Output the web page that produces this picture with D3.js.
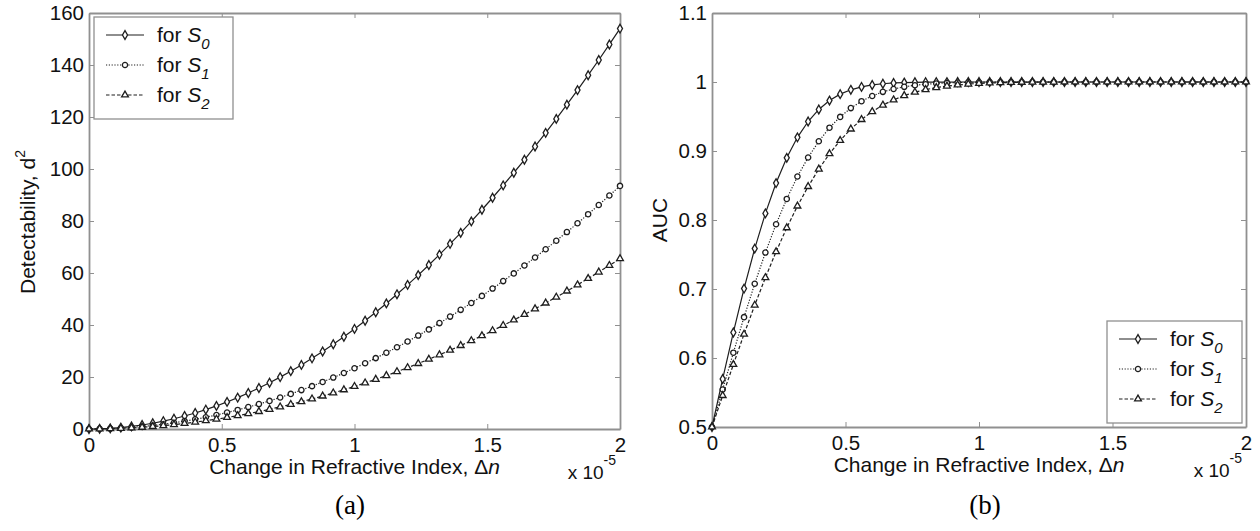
<!DOCTYPE html>
<html><head><meta charset="utf-8">
<script src="https://cdn.jsdelivr.net/npm/d3@7"></script>
<style>
body{margin:0;background:#fff;}
svg{display:block;font-family:"Liberation Sans",Arial,sans-serif;}
</style></head>
<body>
<svg id="c" width="1260" height="531"></svg>
<script>
// ---- data ----
const dn = [0,0.04,0.08,0.12,0.16,0.2,0.24,0.28,0.32,0.36,0.4,0.44,0.48,0.52,0.56,0.6,0.64,0.68,0.72,0.76,0.8,0.84,0.88,0.92,0.96,1,1.04,1.08,1.12,1.16,1.2,1.24,1.28,1.32,1.36,1.4,1.44,1.48,1.52,1.56,1.6,1.64,1.68,1.72,1.76,1.8,1.84,1.88,1.92,1.96,2];
const d2S0 = [0,0.06,0.25,0.55,0.99,1.54,2.22,3.02,3.94,4.99,6.16,7.45,8.87,10.41,12.07,13.86,15.77,17.80,19.96,22.24,24.64,27.17,29.81,32.59,35.48,38.5,41.64,44.91,48.29,51.81,55.44,59.20,63.08,67.08,71.21,75.46,79.83,84.33,88.95,93.69,98.56,103.55,108.66,113.90,119.26,124.74,130.35,136.07,141.93,147.90,154.0];
const d2S1 = [0,0.04,0.15,0.34,0.60,0.94,1.35,1.83,2.39,3.03,3.74,4.53,5.39,6.32,7.33,8.42,9.57,10.81,12.12,13.50,14.96,16.49,18.10,19.78,21.54,23.38,25.28,27.26,29.32,31.45,33.66,35.94,38.30,40.73,43.23,45.82,48.47,51.20,54.01,56.89,59.84,62.87,65.97,69.15,72.41,75.74,79.14,82.62,86.17,89.80,93.50];
const d2S2 = [0,0.03,0.10,0.24,0.42,0.66,0.94,1.28,1.68,2.12,2.62,3.17,3.77,4.43,5.14,5.90,6.71,7.57,8.49,9.46,10.48,11.55,12.68,13.86,15.09,16.38,17.71,19.10,20.54,22.03,23.58,25.18,26.83,28.53,30.29,32.10,33.96,35.87,37.83,39.85,41.92,44.04,46.22,48.44,50.72,53.06,55.44,57.88,60.36,62.91,65.50];
const aucS0 = [0.5,0.5696,0.6370,0.7006,0.7586,0.8096,0.8535,0.8901,0.9198,0.9427,0.9602,0.9731,0.9824,0.9887,0.9929,0.9957,0.9975,0.9986,0.9992,0.9996,0.9998,0.9999,0.9999,1,1,1,1,1,1,1,1,1,1,1,1,1,1,1,1,1,1,1,1,1,1,1,1,1,1,1,1];
const aucS1 = [0.5,0.5543,0.6077,0.6592,0.7076,0.7528,0.7939,0.8305,0.8630,0.8906,0.9141,0.9338,0.9494,0.9622,0.9722,0.9797,0.9857,0.9899,0.9930,0.9953,0.9968,0.9979,0.9987,0.9992,0.9995,0.9997,0.9998,0.9999,0.9999,1,1,1,1,1,1,1,1,1,1,1,1,1,1,1,1,1,1,1,1,1,1];
const aucS2 = [0.5,0.5456,0.5906,0.6345,0.6765,0.7165,0.7540,0.7887,0.8202,0.8485,0.8738,0.8960,0.9152,0.9318,0.9456,0.9571,0.9665,0.9741,0.9803,0.9852,0.9890,0.9919,0.9941,0.9957,0.9970,0.9979,0.9986,0.9990,0.9993,0.9996,0.9997,0.9998,0.9999,1,1,1,1,1,1,1,1,1,1,1,1,1,1,1,1,1,1];
const seriesNames = ["0","1","2"];
const xTicks = [0,0.5,1,1.5,2];
const yTicksA = [0,20,40,60,80,100,120,140,160];
const yTicksB = [0.5,0.6,0.7,0.8,0.9,1,1.1];

// ---- drawing ----
const svg = d3.select("#c");
const AX = "#909090", INK = "#1e1e1e";
const styles = [
  {dash:null, sym:d3.symbolDiamond, size:22},
  {dash:"1.2,1.6", sym:d3.symbolCircle, size:22},
  {dash:"3.5,2", sym:d3.symbolTriangle, size:20}
];

function panel(opt){
  const x = d3.scaleLinear().domain([0,2]).range([opt.x0,opt.x1]);
  const y = d3.scaleLinear().domain(opt.yDom).range([opt.y1,opt.y0]);
  const g = svg.append("g");
  const fmt = d=>String(d);
  const ax = (a)=>a.tickSizeOuter(0);
  const gb = g.append("g").attr("transform",`translate(0,${opt.y1})`)
    .call(ax(d3.axisBottom(x).tickValues(xTicks).tickFormat(fmt).tickSize(-5).tickPadding(8)));
  const gt = g.append("g").attr("transform",`translate(0,${opt.y0})`)
    .call(ax(d3.axisTop(x).tickValues(xTicks).tickFormat("").tickSize(-5)));
  const gl = g.append("g").attr("transform",`translate(${opt.x0},0)`)
    .call(ax(d3.axisLeft(y).tickValues(opt.yTicks).tickFormat(fmt).tickSize(-5).tickPadding(5)));
  const gr = g.append("g").attr("transform",`translate(${opt.x1},0)`)
    .call(ax(d3.axisRight(y).tickValues(opt.yTicks).tickFormat("").tickSize(-5)));
  [gb,gt,gl,gr].forEach(a=>{
    a.select(".domain").attr("stroke",AX).attr("stroke-width",1.8);
    a.selectAll(".tick line").attr("stroke",AX).attr("stroke-width",1);
    a.selectAll("text").attr("font-size",20.5).attr("fill","#111").attr("font-family","Liberation Sans, Arial, sans-serif");
  });

  // series
  opt.series.forEach((vals,i)=>{
    const st = styles[i];
    const pts = dn.map((d,j)=>[d,vals[j]]);
    const line = d3.line().x(p=>x(p[0])).y(p=>y(p[1]));
    g.append("path").attr("d",line(pts)).attr("fill","none").attr("stroke",INK)
      .attr("stroke-width",1.2).attr("stroke-dasharray",st.dash);
    g.selectAll(null).data(pts).enter().append("path")
      .attr("d",d3.symbol().type(st.sym).size(st.size))
      .attr("transform",p=>`translate(${x(p[0])},${y(p[1])})`)
      .attr("fill","#fff").attr("stroke",INK).attr("stroke-width",1.3);
  });

  // axis labels
  const xl = g.append("text").attr("x",(opt.x0+opt.x1)/2).attr("y",opt.y1+45)
    .attr("text-anchor","middle").attr("font-size",21).attr("fill","#111");
  xl.append("tspan").text("Change in Refractive Index, ");
  xl.append("tspan").text("\u0394");
  xl.append("tspan").attr("font-style","italic").text("n");

  const e = g.append("text").attr("x",opt.x1-4).attr("y",opt.y1+50)
    .attr("text-anchor","end").attr("font-size",19).attr("fill","#111");
  e.append("tspan").text("x 10");
  e.append("tspan").attr("dy",-14).attr("font-size",14).text("-5");

  const yl = g.append("text").attr("transform",`translate(${opt.ylx},${opt.yly}) rotate(-90)`)
    .attr("text-anchor","middle").attr("font-size",21).attr("fill","#111");
  yl.append("tspan").text(opt.ylabel);
  if(opt.ysup){ yl.append("tspan").attr("dy",-10).attr("font-size",14).text(opt.ysup); }

  // caption
  g.append("text").attr("x",opt.capx).attr("y",514).attr("text-anchor","middle")
    .attr("font-family","Liberation Serif, Times New Roman, serif").attr("font-size",27)
    .attr("fill","#000").text(opt.cap);

  // legend
  const L = opt.legend;
  g.append("rect").attr("x",L.x).attr("y",L.y).attr("width",L.w).attr("height",L.h)
    .attr("fill","#fff").attr("stroke",AX).attr("stroke-width",1.3);
  seriesNames.forEach((nm,i)=>{
    const st = styles[i];
    const cy = L.y + 18 + i*30;
    g.append("line").attr("x1",L.x+12).attr("x2",L.x+50).attr("y1",cy).attr("y2",cy)
      .attr("stroke",INK).attr("stroke-width",1.2).attr("stroke-dasharray",st.dash);
    g.append("path").attr("d",d3.symbol().type(st.sym).size(st.size)())
      .attr("transform",`translate(${L.x+31},${cy})`).attr("fill","#fff").attr("stroke",INK).attr("stroke-width",1.3);
    const t = g.append("text").attr("x",L.x+63).attr("y",cy+7).attr("font-size",21).attr("fill","#111");
    t.append("tspan").text("for ");
    t.append("tspan").attr("font-style","italic").text("S");
    t.append("tspan").attr("font-style","italic").attr("font-size",15).attr("dy",7).text(nm);
  });
}

panel({x0:89,x1:620,y0:13,y1:429,yDom:[0,160],yTicks:yTicksA,series:[d2S0,d2S1,d2S2],
  ylabel:"Detectability, d",ysup:"2",ylx:35,yly:222,cap:"(a)",capx:350,
  legend:{x:94,y:17,w:139,h:102}});
panel({x0:712,x1:1246,y0:13,y1:427,yDom:[0.5,1.1],yTicks:yTicksB,series:[aucS0,aucS1,aucS2],
  ylabel:"AUC",ysup:null,ylx:667,yly:220,cap:"(b)",capx:985,
  legend:{x:1107,y:321,w:135,h:102}});
</script>
</body></html>
